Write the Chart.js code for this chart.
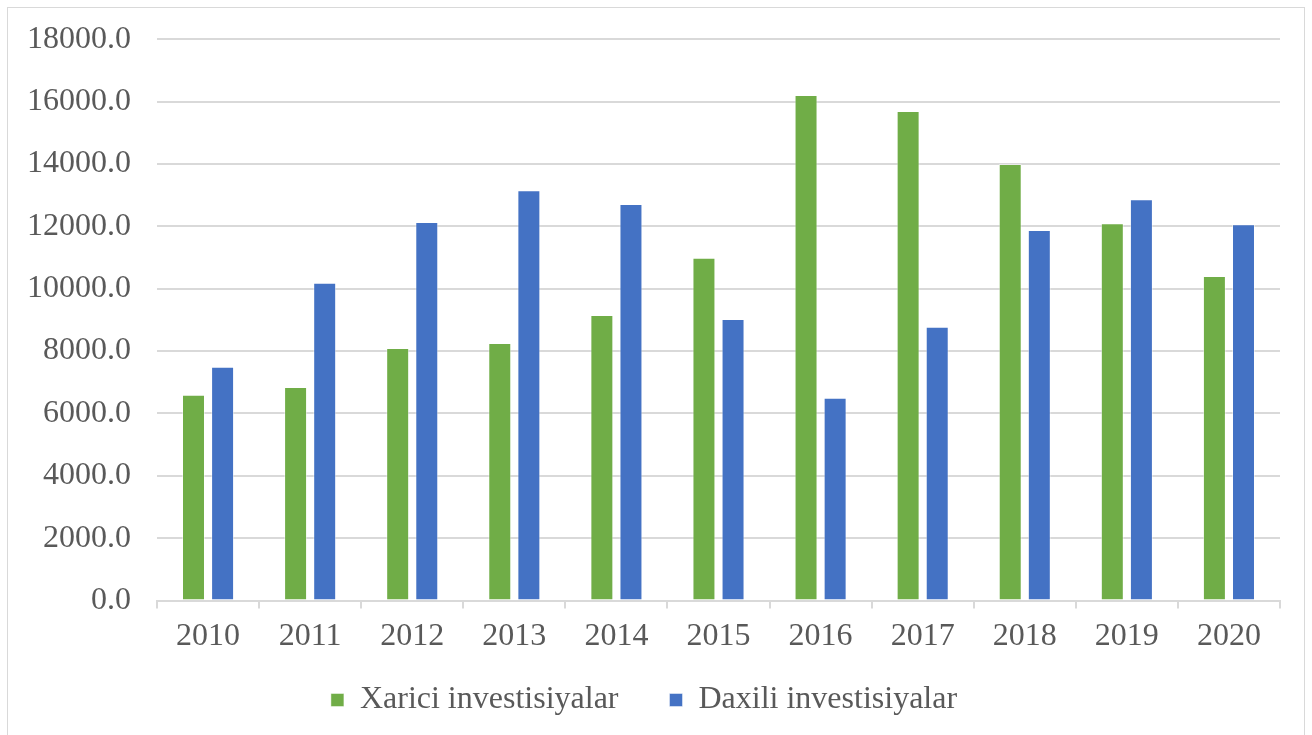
<!DOCTYPE html>
<html>
<head>
<meta charset="utf-8">
<script src="https://cdn.jsdelivr.net/npm/chart.js@4"></script>
<style>
  body { margin: 0; background: #fff; overflow: hidden; }
  #wrap { position: absolute; left: 7px; top: 7px; width: 1298px; height: 760px; border: 1px solid #d9d9d9; box-sizing: border-box; }
  #inner { position: absolute; left: 0; right: 0; top: -14px; height: 752px; }
</style>
</head>
<body>
<div id="wrap"><div id="inner"><canvas id="investChart"></canvas></div></div>
<script>
// years and values (mln manat)
const years = ["2010", "2011", "2012", "2013", "2014", "2015", "2016", "2017", "2018", "2019", "2020"];
const xariciInv = [6600, 6850, 8100, 8260, 9160, 10990, 16210, 15700, 14000, 12100, 10410];
const daxiliInv = [7500, 10190, 12140, 13160, 12720, 9030, 6500, 8780, 11880, 12870, 12070];
const seriesNames = ["Xarici investisiyalar", "Daxili investisiyalar"];

const textColor = "#595959";
const serif = "'Liberation Serif', 'Times New Roman', serif";

const ctx = document.getElementById("investChart").getContext("2d");
new Chart(ctx, {
    type: "bar",
    data: {
        labels: years,
        datasets: [
            {
                label: seriesNames[0],
                data: xariciInv,
                backgroundColor: "#70ad47",
                borderColor: "rgba(255,255,255,0.45)",
                borderWidth: 1,
                barPercentage: 0.79,
                categoryPercentage: 0.57,
            },
            {
                label: seriesNames[1],
                data: daxiliInv,
                backgroundColor: "#4472c4",
                borderColor: "rgba(255,255,255,0.45)",
                borderWidth: 1,
                barPercentage: 0.79,
                categoryPercentage: 0.57,
            },
        ],
    },
    options: {
        responsive: true,
        maintainAspectRatio: false,
        animation: false,
        layout: { padding: { top: 0, right: 24, bottom: 20, left: 0 } },
        plugins: {
            legend: {
                position: "bottom",
                labels: {
                    boxWidth: 13,
                    boxHeight: 13,
                    padding: 19,
                    color: textColor,
                    font: { family: serif, size: 32 },
                    // wider gap between the two legend items, like the original
                    generateLabels: (chart) =>
                        Chart.defaults.plugins.legend.labels.generateLabels(chart).map((l, i) =>
                            i === 0 ? { ...l, text: l.text + "\u00a0\u00a0\u00a0\u00a0" } : l),
                },
            },
            tooltip: { enabled: false },
        },
        scales: {
            x: {
                grid: {
                    offset: true,
                    drawOnChartArea: false,
                    tickLength: 8,
                    color: "#d9d9d9",
                    lineWidth: 2,
                },
                border: { color: "#d9d9d9", width: 2 },
                ticks: {
                    color: textColor,
                    font: { family: serif, size: 32 },
                    padding: 9,
                },
            },
            y: {
                min: 0,
                max: 18000,
                afterFit: (scale) => { scale.width = 149; },
                grid: { color: "#d9d9d9", lineWidth: 2, drawTicks: false },
                border: { display: false },
                ticks: {
                    stepSize: 2000,
                    padding: 26,
                    color: textColor,
                    font: { family: serif, size: 32 },
                    callback: (v) => v.toFixed(1),
                },
            },
        },
    },
});
</script>
</body>
</html>
